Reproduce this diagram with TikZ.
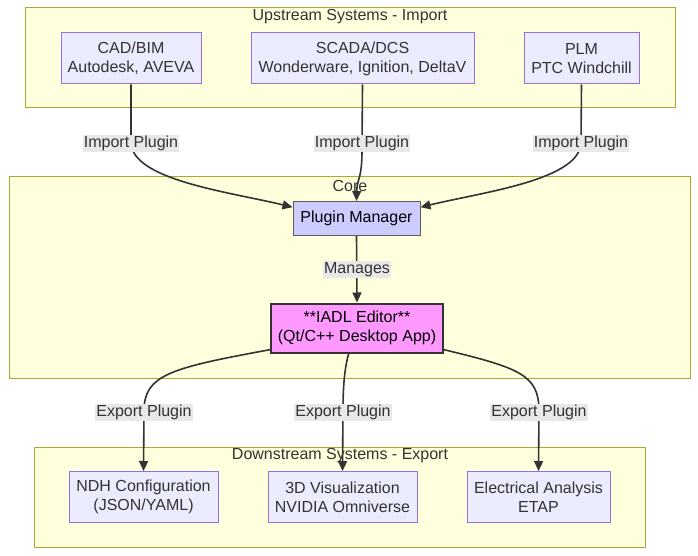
\documentclass[tikz,border=0pt]{standalone}
\usepackage{fontspec}
\setmainfont{Liberation Sans}
\usetikzlibrary{arrows.meta}

\definecolor{clusterfill}{HTML}{FFFFDE}
\definecolor{clusterline}{HTML}{AAAA33}
\definecolor{boxfill}{HTML}{ECECFF}
\definecolor{boxline}{HTML}{9370DB}
\definecolor{managerfill}{HTML}{CCCCFF}
\definecolor{editorfill}{HTML}{FF99FF}
\definecolor{ink}{HTML}{333333}
\definecolor{labelfill}{HTML}{E8E8E8}

\begin{document}
\begin{tikzpicture}[> = {Triangle[length = 10pt, width = 9pt]}, x = 1pt, y = -1pt,
	font = \fontsize{16}{19}\selectfont, text = ink,
	cluster/.style = {fill = clusterfill, draw = clusterline, line width = 1pt},
	system/.style = {draw = boxline, fill = boxfill, line width = 1pt, align = center, inner sep = 0pt, minimum height = 51pt},
	edgelabel/.style = {fill = labelfill, inner sep = 1pt, text = ink}]

	\useasboundingbox (0, 0) rectangle (698, 556);

	% Clusters

	\draw [cluster] (25, 8) rectangle (675, 108);
	\draw [cluster] (9, 177) rectangle (690, 378);
	\draw [cluster] (34, 447) rectangle (645, 547);

	\node (uptitle) at (350, 17) {Upstream Systems - Import};
	\node (coretitle) at (350, 186) {Core};
	\node (downtitle) at (340, 456) {Downstream Systems - Export};

	% Upstream systems

	\node (cad) [system, minimum width = 140pt] at (131, 58.5) {CAD/BIM\\Autodesk, AVEVA};
	\node (scada) [system, minimum width = 223pt] at (362.5, 58.5) {SCADA/DCS\\Wonderware, Ignition, DeltaV};
	\node (plm) [system, minimum width = 115pt] at (581.5, 58.5) {PLM\\PTC Windchill};

	% Core

	\node (manager) [draw = ink!80, fill = managerfill, text = black, line width = 1pt, minimum width = 127pt, minimum height = 34pt, inner sep = 0pt] at (356.5, 218.5) {Plugin Manager};
	\node (editor) [draw = ink, fill = editorfill, text = black, line width = 2pt, align = center, minimum width = 172pt, minimum height = 49pt, inner sep = 0pt] at (357, 328) {**IADL Editor**\\(Qt/C++ Desktop App)};

	% Downstream systems

	\node (ndh) [system, minimum width = 149pt] at (143.5, 497) {NDH Configuration\\(JSON/YAML)};
	\node (visual) [system, minimum width = 149pt] at (342.5, 497) {3D Visualization\\NVIDIA Omniverse};
	\node (etap) [system, minimum width = 143pt] at (538.5, 497) {Electrical Analysis\\ETAP};

	% Connectors

	\begin{scope}[->, draw = ink, line width = 1.6pt]

		\draw (cad.south) -- (131, 142) .. controls (131, 180) and (230, 192) .. (manager.170);
		\draw (scada.south) -- (362, 150) .. controls (362, 180) and (357, 178) .. (manager.north);
		\draw (plm.south) -- (581, 142) .. controls (581, 180) and (483, 192) .. (manager.10);

		\draw (manager.south) -- (editor.north);

		\draw (editor.194) .. controls (170, 368) and (144, 375) .. (144, 411) -- (ndh.north);
		\draw (editor.252) .. controls (344, 370) and (343, 390) .. (343, 411) -- (visual.north);
		\draw (editor.346) .. controls (520, 368) and (539, 375) .. (539, 411) -- (etap.north);

	\end{scope}

	% Edge labels

	\node (cadlabel) [edgelabel] at (131, 143.5) {Import Plugin};
	\node (scadalabel) [edgelabel] at (362, 143.5) {Import Plugin};
	\node (plmlabel) [edgelabel] at (581, 143.5) {Import Plugin};
	\node (managelabel) [edgelabel] at (357, 269.5) {Manages};
	\node (ndhlabel) [edgelabel] at (144, 412.5) {Export Plugin};
	\node (visuallabel) [edgelabel] at (343, 412.5) {Export Plugin};
	\node (etaplabel) [edgelabel] at (539, 412.5) {Export Plugin};

\end{tikzpicture}
\end{document}
